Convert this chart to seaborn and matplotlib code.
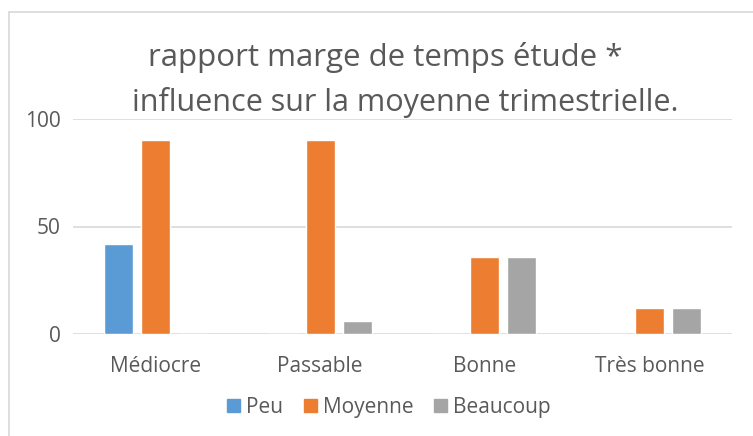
import pandas as pd
import seaborn as sns
import matplotlib.pyplot as plt
from matplotlib.lines import Line2D

# ==========================
# Data
# ==========================
categories = ['Médiocre', 'Passable', 'Bonne', 'Très bonne']
series_names = ['Peu', 'Moyenne', 'Beaucoup']
peu = [42, 0, 0, 0]
moyenne = [90, 90, 36, 12]
beaucoup = [0, 6, 36, 12]
y_ticks = [0, 50, 100]
title_lines = ['rapport marge de temps étude *', 'influence sur la moyenne trimestrielle.']

colors = ['#5B9BD5', '#ED7D31', '#A5A5A5']
text_color = '#595959'
grid_color = '#D9D9D9'

df = pd.DataFrame({
    'Catégorie': categories * 3,
    'Série': [s for s in series_names for _ in categories],
    'Valeur': peu + moyenne + beaucoup,
})

# ==========================
# Plot
# ==========================
sns.set_style('white')
plt.rcParams['font.family'] = ['Open Sans', 'DejaVu Sans']

fig = plt.figure(figsize=(7.53, 4.36), dpi=100)
ax = fig.add_axes([73 / 753, 1 - 334 / 436, (732 - 73) / 753, (334 - 119) / 436])

sns.barplot(data=df, x='Catégorie', y='Valeur', hue='Série', order=categories,
            hue_order=series_names, palette=colors, width=0.674, gap=0.216,
            saturation=1, ax=ax, legend=False)

ax.set_xlim(-0.5, 3.5)
ax.set_ylim(0, 100)
ax.set_yticks(y_ticks)
ax.set_xlabel('')
ax.set_ylabel('')
for side in ['top', 'right', 'left', 'bottom']:
    ax.spines[side].set_visible(False)
ax.grid(axis='y', color=grid_color, linewidth=1.2)
ax.set_axisbelow(True)
ax.tick_params(axis='both', length=0, labelsize=15, labelcolor=text_color)
ax.tick_params(axis='y', pad=9)
ax.tick_params(axis='x', pad=16)

# title, two centred lines (Excel style)
fig.text(385 / 753, 1 - 57 / 436, title_lines[0], ha='center', va='center',
         fontsize=22.5, color=text_color)
fig.text(405 / 753, 1 - 103 / 436, title_lines[1], ha='center', va='center',
         fontsize=22, color=text_color)

handles = [plt.Rectangle((0, 0), 1, 1, color=c) for c in colors]
fig.legend(handles, series_names, loc='center', bbox_to_anchor=(389 / 753, 1 - 407 / 436),
           ncol=3, frameon=False, fontsize=15, handlelength=0.6, handleheight=0.6,
           handletextpad=0.3, columnspacing=1.0, labelcolor=text_color)

# chart border (top and left edges only are visible)
fig.add_artist(Line2D([9 / 753, 9 / 753], [0, 1 - 12 / 436], color=grid_color,
                      linewidth=1.2, transform=fig.transFigure))
fig.add_artist(Line2D([9 / 753, 1], [1 - 12 / 436, 1 - 12 / 436], color=grid_color,
                      linewidth=1.2, transform=fig.transFigure))

fig.savefig('out.png', dpi=100)
